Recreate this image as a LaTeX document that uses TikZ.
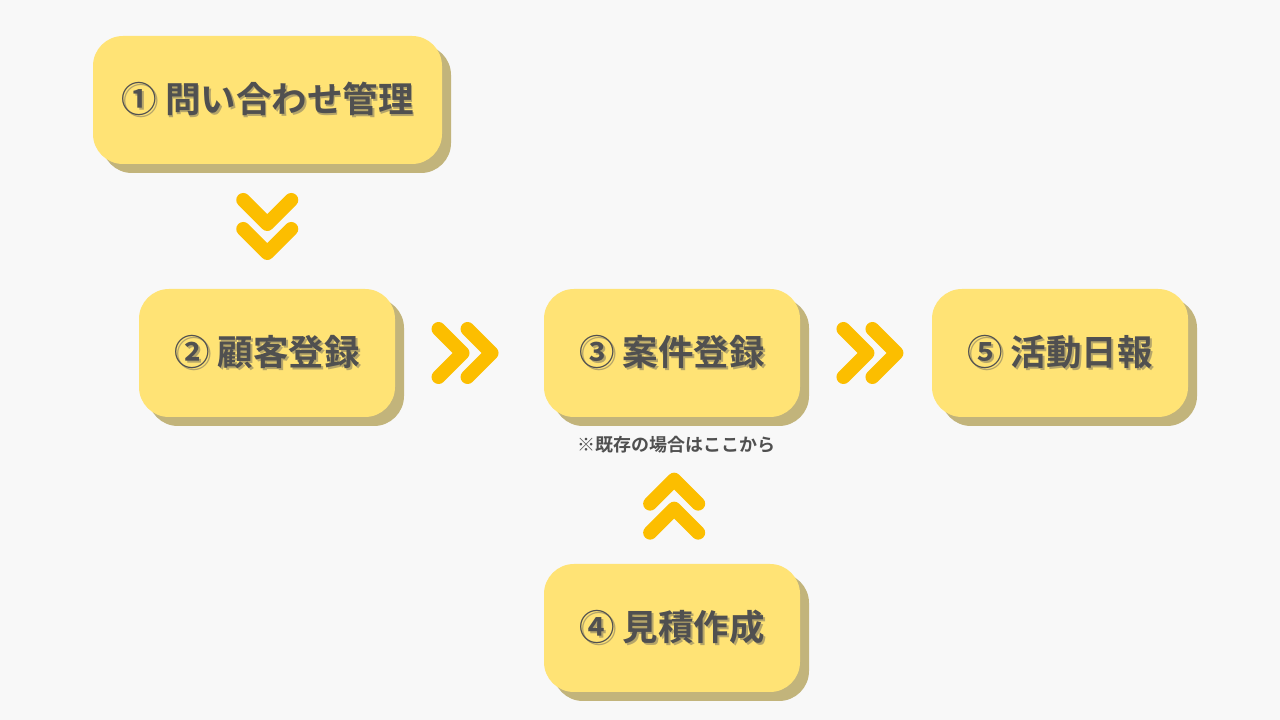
\documentclass[tikz,border=0pt]{standalone}
\usepackage{fontspec}
\setmainfont{Noto Sans CJK JP}[BoldFont={* Bold}]
\usetikzlibrary{shadows}

\definecolor{bg}{HTML}{F8F8F8}
\definecolor{boxfill}{HTML}{FFE375}
\definecolor{boxshade}{HTML}{C2B47B}
\definecolor{txt}{HTML}{505050}
\definecolor{txtshade}{HTML}{B5A56A}
\definecolor{chevcol}{HTML}{FCBE00}

\newcommand{\shadetext}[1]{{\color{txtshade}\rlap{\hspace{2pt}\raisebox{-2pt}{#1}}}#1}

\tikzset{
	stepbox/.style={fill=boxfill, rounded corners=30pt, minimum height=128pt,
		text=txt, font=\bfseries\fontsize{35.5}{40}\selectfont,
		drop shadow={shadow xshift=9pt, shadow yshift=-9pt, fill=boxshade, opacity=1}},
	chev/.style={draw=chevcol, line width=14pt, line cap=round, line join=round},
	chevrons/.pic={
		\draw[chev] (-26.5,-24) -- (-2.5,0) -- (-26.5,24);
		\draw[chev] (2.5,-24) -- (26.5,0) -- (2.5,24);
	}
}

\begin{document}
\begin{tikzpicture}[x=1pt,y=1pt]
	\fill[bg] (0,0) rectangle (1280,720);
	\useasboundingbox (0,0) rectangle (1280,720);

	\node[stepbox, minimum width=349pt] (Toi) at (267.5,620) {\shadetext{① 問い合わせ管理}};
	\node[stepbox, minimum width=256pt] (Kok) at (267,367) {\shadetext{② 顧客登録}};
	\node[stepbox, minimum width=256pt] (Ank) at (672,367) {\shadetext{③ 案件登録}};
	\node[stepbox, minimum width=256pt] (Mit) at (672,92) {\shadetext{④ 見積作成}};
	\node[stepbox, minimum width=256pt] (Nip) at (1060,367) {\shadetext{⑤ 活動日報}};

	\node[text=txt, font=\bfseries\fontsize{18}{22}\selectfont] (Note) at (676,275) {※既存の場合はここから};

	\path (Toi.south) -- (Kok.north) pic[midway, rotate=-90] {chevrons};
	\path (Kok.east) -- (Ank.west) pic[pos=0.47] {chevrons};
	\path (Ank.east) -- (Nip.west) pic[pos=0.53] {chevrons};
	\path (Mit.north) -- (Note.south) pic[pos=0.54, rotate=90] {chevrons};
\end{tikzpicture}
\end{document}
